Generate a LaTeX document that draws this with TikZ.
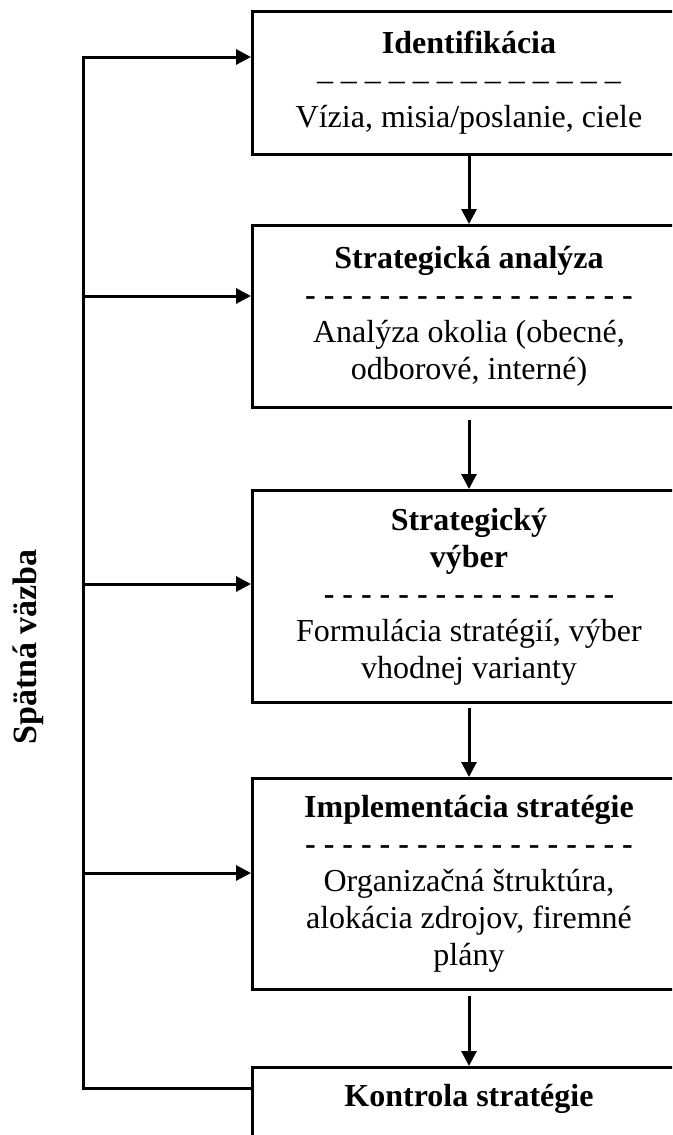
\documentclass[tikz,border=0pt]{standalone}
\usepackage{fontspec}
\setmainfont{Liberation Serif}
\usetikzlibrary{arrows.meta}

\tikzset{
  stage/.style={draw, line width=3pt, rectangle, anchor=north west,
    minimum width=433pt, text width=417pt, inner xsep=8pt, inner ysep=4pt,
    align=flush center, font=\fontsize{32}{37}\selectfont},
  flow/.style={line width=3pt, line join=miter, -{Triangle[length=15pt,width=15pt]}},
  sidelabel/.style={rotate=90, font=\bfseries\fontsize{34}{39}\selectfont},
}

\begin{document}
\begin{tikzpicture}[x=1pt,y=1pt]
\useasboundingbox (0,0) rectangle (672,-1135);
\clip (0,0) rectangle (672,-1135);

% process stages
\node[stage, minimum height=143pt] (s1) at (251,-10)
  {\textbf{Identifikácia}\\
   – – – – – – – – – – – – –\\
   Vízia, misia/poslanie, ciele};
\node[stage, minimum height=182pt] (s2) at (251,-224)
  {\textbf{Strategická analýza}\\
   \textbf{- - - - - - - - - - - - - - - - - -}\\
   Analýza okolia (obecné,\\ odborové, interné)};
\node[stage, minimum height=212pt] (s3) at (251,-489)
  {\textbf{Strategický}\\ \textbf{výber}\\
   \textbf{- - - - - - - - - - - - - - - -}\\
   Formulácia stratégií, výber\\ vhodnej varianty};
\node[stage, minimum height=211pt] (s4) at (251,-777)
  {\textbf{Implementácia stratégie}\\
   \textbf{- - - - - - - - - - - - - - - - - -}\\
   Organizačná štruktúra,\\ alokácia zdrojov, firemné\\ plány};
\node[stage, text height=26pt, text depth=100pt, inner ysep=13pt] (s5) at (251,-1066)
  {\textbf{Kontrola stratégie}};

% downward flow between stages
\draw[flow] (s1.south) -- (s2.north);
\draw[flow, shorten <=11pt] (s2.south) -- (s3.north);
\draw[flow, shorten <=4pt] (s3.south) -- (s4.north);
\draw[flow, shorten <=5pt] (s4.south) -- (s5.north);

% feedback loop on the left
\coordinate (f1) at (83,-57);
\coordinate (f2) at (83,-296);
\coordinate (f3) at (83,-584);
\coordinate (f4) at (83,-873);
\coordinate (f5) at (83,-1088);

\draw[flow] (f5 -| s5.west) -- (f5) -- (f1) -- (f1 -| s1.west);
\draw[flow] (f2) -- (f2 -| s2.west);
\draw[flow] (f3) -- (f3 -| s3.west);
\draw[flow] (f4) -- (f4 -| s4.west);

\node[sidelabel] (fb) at (28,-647) {Spätná väzba};
\end{tikzpicture}
\end{document}
